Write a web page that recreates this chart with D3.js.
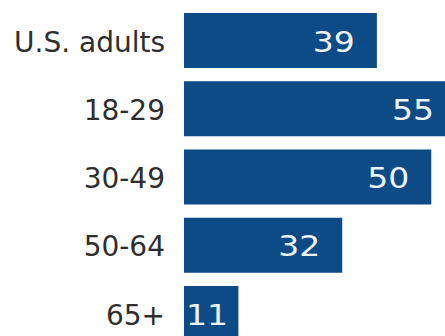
<!DOCTYPE html>
<html>
<head>
<meta charset="utf-8">
<script src="https://cdn.jsdelivr.net/npm/d3@7"></script>
<style>
  html, body { margin: 0; padding: 0; background: #fff; }
  svg { display: block; }
</style>
</head>
<body>
<script>
// Share of each age group (percent)
const categories = ["U.S. adults", "18-29", "30-49", "50-64", "65+"];
const values = [39, 55, 50, 32, 11];

const width = 445, height = 336;
const barColor = "#0d4b87";
const fontFamily = "'DejaVu Sans', Verdana, sans-serif";
const fontSize = 28;
const valueStretch = 1.18;   // value figures are set wider than the row labels

const svg = d3.select("body").append("svg")
  .attr("width", width)
  .attr("height", height);

const x = d3.scaleLinear().domain([0, 55]).range([184, 456]);
const y = d3.scaleBand().domain(categories).range([13, 341]).paddingInner(0.194).paddingOuter(0);

const data = categories.map((c, i) => ({ c, v: values[i] }));
const isNarrow = d => x(d.v) - x(0) < 80;

// Bars
svg.selectAll("rect.bar").data(data).join("rect")
  .attr("class", "bar")
  .attr("x", x(0))
  .attr("y", d => y(d.c))
  .attr("width", d => x(d.v) - x(0))
  .attr("height", y.bandwidth())
  .attr("fill", barColor);

// Category labels on the left
svg.selectAll("text.cat").data(data).join("text")
  .attr("class", "cat")
  .attr("x", x(0) - 19)
  .attr("y", d => y(d.c) + y.bandwidth() / 2)
  .attr("dy", "0.4em")
  .attr("text-anchor", "end")
  .attr("font-family", fontFamily)
  .attr("font-size", fontSize)
  .attr("fill", "#2e2e2e")
  .text(d => d.c);

// Value labels inside the bars
svg.selectAll("text.val").data(data).join("text")
  .attr("class", "val")
  .attr("transform", d => {
    const tx = isNarrow(d) ? x(0) + 2 : x(d.v) - 22;
    const ty = y(d.c) + y.bandwidth() / 2;
    return `translate(${tx},${ty}) scale(${valueStretch},1)`;
  })
  .attr("dy", "0.4em")
  .attr("text-anchor", d => isNarrow(d) ? "start" : "end")
  .attr("font-family", fontFamily)
  .attr("font-size", fontSize)
  .attr("fill", "#eef3fa")
  .text(d => d.v);
</script>
</body>
</html>
